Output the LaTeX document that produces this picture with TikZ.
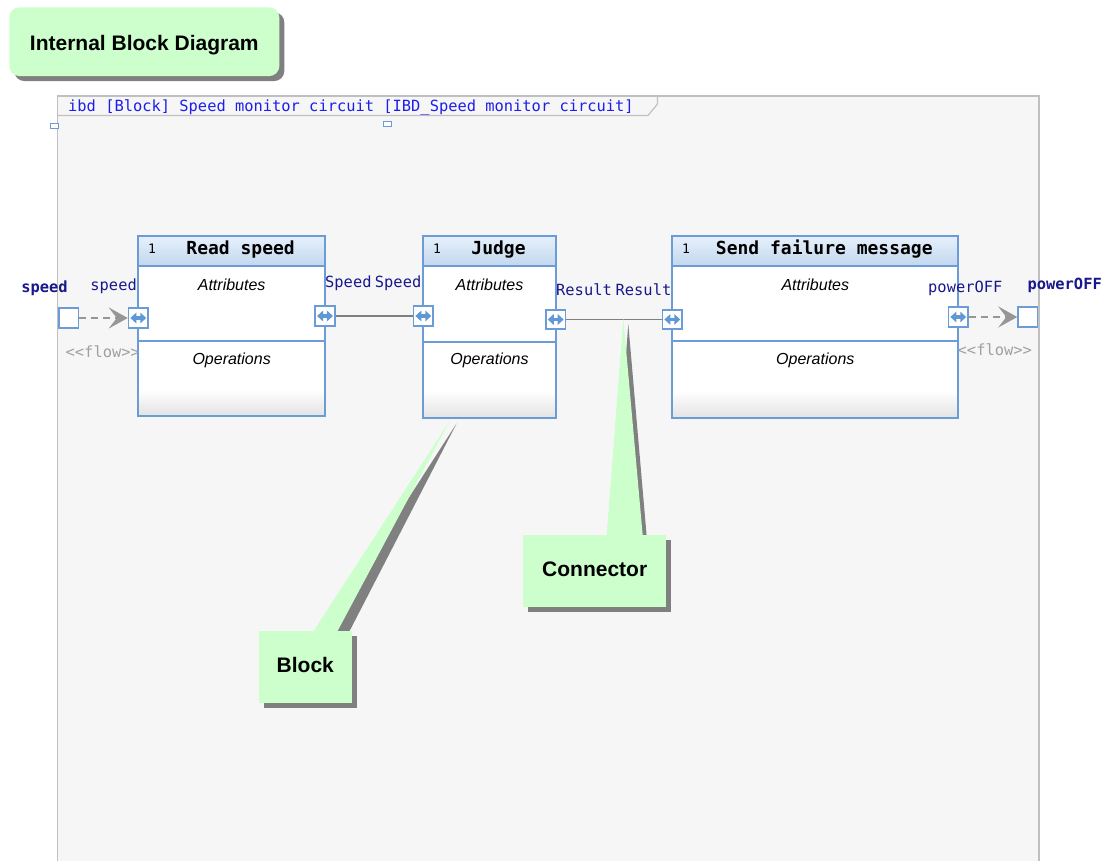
\documentclass[tikz,border=0pt]{standalone}
\usepackage{fontspec}
\usetikzlibrary{arrows.meta,shadows}

\newfontfamily\gothic{DejaVu Sans Mono}
\newfontfamily\uisans{Liberation Sans}
\newcommand\setfs[1]{\fontsize{#1}{#1}\selectfont}

\definecolor{framefill}{RGB}{246,246,246}
\definecolor{frameline}{RGB}{192,192,192}
\definecolor{notegreen}{RGB}{204,255,204}
\definecolor{shadowgray}{RGB}{128,128,128}
\definecolor{blockline}{RGB}{108,156,216}
\definecolor{headtop}{RGB}{230,240,251}
\definecolor{headbot}{RGB}{194,215,238}
\definecolor{portblue}{RGB}{96,152,214}
\definecolor{navy}{RGB}{24,24,140}
\definecolor{ibdblue}{RGB}{30,30,235}
\definecolor{flowgray}{RGB}{150,150,150}
\definecolor{flowtext}{RGB}{160,160,160}
\definecolor{connline}{RGB}{128,128,128}

\tikzset{
  blockbody/.style={fill=white, inner sep=0pt, outer sep=0pt},
  blockedge/.style={draw=blockline, line width=1.8pt},
  blockhead/.style={draw=blockline, line width=1.8pt, top color=headtop, bottom color=headbot,
    inner sep=0pt, outer sep=0pt, minimum height=30pt},
  blocktitle/.style={font=\gothic\bfseries\setfs{18}, anchor=base, inner sep=0pt},
  mult/.style={font=\gothic\setfs{13}, anchor=base west, inner sep=0pt},
  compart/.style={font=\uisans\itshape\setfs{16}, anchor=base, inner sep=0pt},
  port/.style={draw=blockline, line width=1.6pt, fill=white, minimum size=19.5pt, inner sep=0pt,
    path picture={\draw[portblue, line width=3.4pt, {Triangle[length=6pt,width=10.5pt]}-{Triangle[length=6pt,width=10.5pt]}]
      ([xshift=1.8pt]path picture bounding box.west) -- ([xshift=-1.8pt]path picture bounding box.east);}},
  extport/.style={draw=blockline, line width=1.6pt, fill=white, minimum size=19.5pt, inner sep=0pt},
  handle/.style={draw=blockline, line width=1pt, fill=white, minimum width=8pt, minimum height=5pt, inner sep=0pt},
  portlabel/.style={font=\gothic\setfs{15.4}, text=navy, inner sep=0pt},
  extlabel/.style={font=\gothic\bfseries\setfs{15.4}, text=navy, inner sep=0pt, anchor=base},
  flowlabel/.style={font=\gothic\setfs{15.4}, text=flowtext, anchor=base west, inner sep=0pt},
  conn/.style={draw=connline, line width=1.5pt},
  flow/.style={draw=flowgray, line width=1.6pt, dash pattern=on 7pt off 5pt,
    -{Stealth[length=19pt,width=21pt,inset=8pt]}},
  notebox/.style={fill=notegreen, inner sep=0pt, font=\uisans\bfseries\setfs{21},
    drop shadow={shadow xshift=5pt, shadow yshift=-5pt, fill=shadowgray, opacity=1}},
}

% one SysML part: body with a soft lower edge, shaded title bar, divider and texts
\newcommand\ibdblock[6]{%
  \node[blockbody, minimum width=#3, minimum height=#4] (#1) at #2 {};
  \shade[top color=white, bottom color=black!11]
    ([yshift=27pt]#1.south west) rectangle (#1.south east);
  \draw[blockedge] (#1.north west) rectangle (#1.south east);
  \node[blockhead, minimum width=#3, anchor=north] (#1-head) at (#1.north) {};
  \draw[blockedge] ([yshift=-#5]#1.north west) -- ([yshift=-#5]#1.north east);
  \node[mult] (#1-mult) at ([xshift=9.5pt,yshift=-17.3pt]#1.north west) {1};
  \node[blocktitle] (#1-title) at ([xshift=9pt,yshift=-18.5pt]#1.north) {#6};
  \node[compart] (#1-attr) at ([yshift=-54pt]#1.north) {Attributes};
  \node[compart] (#1-ops) at ([yshift=-128.5pt]#1.north) {Operations};
}

\begin{document}
\begin{tikzpicture}[x=1pt, y=-1pt]
\useasboundingbox (0,0) rectangle (1105,861);
\fill[white] (0,0) rectangle (1105,861);

% diagram frame with its name tab
\fill[framefill] (57.5,96) rectangle (1039,863);
\draw[frameline, line width=1.2pt] (57.5,863) -- (57.5,96) -- (1039,96) -- (1039,863);
\draw[frameline, line width=1.2pt] (57.5,115.5) -- (648,115.5) -- (657.5,104) -- (657.5,96);
\node[font=\gothic\setfs{15.4}, text=ibdblue, anchor=base west, inner sep=0pt] (hdr) at (68,111.5)
  {ibd [Block] Speed monitor circuit [IBD\_Speed monitor circuit]};
\node[handle] (h1) at (54.2,125.8) {};
\node[handle] (h2) at (387,124.5) {};

% flow stereotypes
\node[flowlabel] (fl1) at (65.5,357.5) {<\kern0pt<flow>\kern0pt>};
\node[flowlabel] (fl2) at (957.5,355.5) {<\kern0pt<flow>\kern0pt>};

% parts
\ibdblock{rs}{(231.65,326)}{186.7pt}{180pt}{105pt}{Read speed}
\ibdblock{jg}{(489.5,326.85)}{132.4pt}{181.7pt}{106pt}{Judge}
\ibdblock{sf}{(815.3,326.85)}{286pt}{181.7pt}{105pt}{Send failure message}

% ports
\node[extport] (spd) at (68.8,318) {};
\node[extport] (pof) at (1027.8,317) {};
\node[port] (rsL) at (138.3,318) {};
\node[port] (rsR) at (325,316) {};
\node[port] (jgL) at (423.3,316) {};
\node[port] (jgR) at (555.7,319.5) {};
\node[port] (sfL) at (672.3,319.5) {};
\node[port] (sfR) at (958.3,317) {};

% port names
\node[extlabel] (lspd) at (44.5,292) {speed};
\node[portlabel, anchor=base east] (lrsL) at (137,290.5) {speed};
\node[portlabel, anchor=base west] (lrsR) at (325,287.5) {Speed};
\node[portlabel, anchor=base east] (ljgL) at (421.5,287.5) {Speed};
\node[portlabel, anchor=base west] (ljgR) at (556,295.5) {Result};
\node[portlabel, anchor=base east] (lsfL) at (671.5,295.5) {Result};
\node[portlabel, anchor=base west] (lsfR) at (928,292) {powerOFF};
\node[extlabel] (lpof) at (1064.7,289.5) {powerOFF};

% connectors and item flows
\draw[conn] (rsR) -- (jgL);
\draw[conn] (jgR) -- (sfL);
\draw[flow] (spd) -- (rsL);
\draw[flow] (sfR) -- (pof);

% callout pointers (shadow first, then the green wedge)
\fill[shadowgray] (320,636) -- (347,636) -- (456.7,423.3) -- cycle;
\fill[notegreen] (313.3,631.5) -- (337.3,631.5) -- (450,420.5) -- cycle;
\fill[shadowgray] (612,540) -- (647,540) -- (628.3,324) -- cycle;
\fill[notegreen] (606.7,535.5) -- (642.7,535.5) -- (623.3,318.3) -- cycle;

% callout boxes
\node[notebox, minimum width=92.7pt, minimum height=72.3pt, text height=15pt, text depth=4pt] (blk)
  at (305.3,667) {Block};
\node[notebox, minimum width=142.7pt, minimum height=72.3pt, text height=15pt, text depth=4pt] (cnn)
  at (594.7,571.2) {Connector};

% diagram title
\node[notebox, rounded corners=10pt, minimum width=270pt, minimum height=68.7pt,
  text height=17.5pt, text depth=0pt] (title) at (144.3,41.7) {Internal Block Diagram};
\end{tikzpicture}
\end{document}
